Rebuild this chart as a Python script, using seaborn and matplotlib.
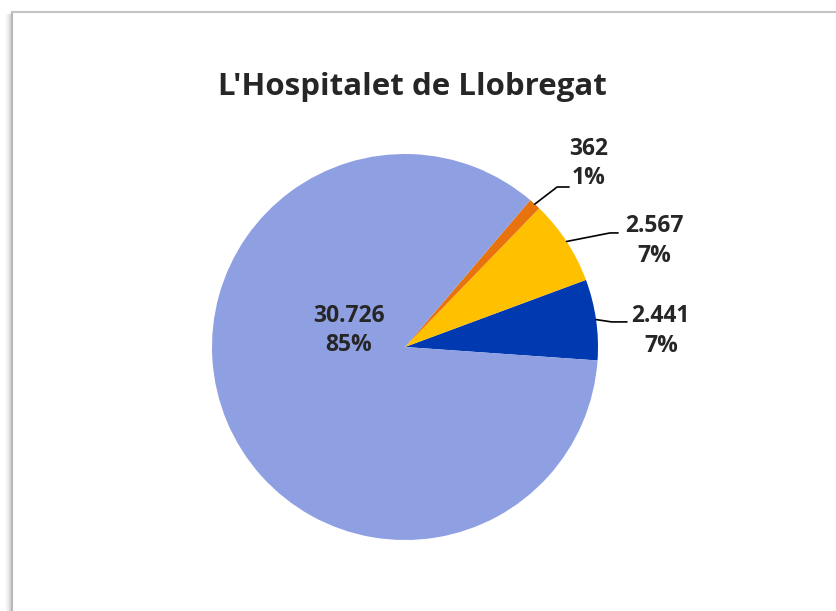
import matplotlib
matplotlib.use("Agg")
import matplotlib.pyplot as plt
from matplotlib.lines import Line2D
import numpy as np
import seaborn as sns

# data
categories = ["C", "B", "A", "D"]
values = [2441, 2567, 362, 30726]
value_labels = ["2.441", "2.567", "362", "30.726"]
colors = ["#0039B0", "#FFC000", "#E8720C", "#8E9FE2"]
title = "L'Hospitalet de Llobregat"

sns.set_theme(style="white")
plt.rcParams["font.family"] = ["Open Sans", "DejaVu Sans"]

fig = plt.figure(figsize=(8.37, 6.11), dpi=100)
ax = fig.add_axes([0, 0, 1, 1])

wedges, _ = ax.pie(values, colors=colors, startangle=-4, counterclock=True,
                   radius=1, center=(0, 0), wedgeprops=dict(linewidth=0))

# map pixels: center (405, 347), radius 193px
scale = 193.0
ax.set_xlim(-405 / scale, (837 - 405) / scale)
ax.set_ylim(-(611 - 347) / scale, 347 / scale)
ax.set_aspect("equal")
ax.axis("off")

total = sum(values)
pct = [f"{round(v / total * 100):.0f}%" for v in values]

# label placement: (elbow, end of line, text pos) in data units
outer = {
    0: ((1.07, 0.13), (1.15, 0.13), (1.326, 0.083)),
    1: ((1.062, 0.591), (1.104, 0.591), (1.29, 0.55)),
    2: ((0.788, 0.829), (0.850, 0.829), (0.953, 0.95)),
}
for i, w in enumerate(wedges):
    mid = np.deg2rad((w.theta1 + w.theta2) / 2)
    txt = f"{value_labels[i]}\n{pct[i]}"
    if i in outer:
        elbow, end, tpos = outer[i]
        anchor = (np.cos(mid), np.sin(mid))
        ax.add_line(Line2D([anchor[0], elbow[0], end[0]],
                           [anchor[1], elbow[1], end[1]],
                           color="black", lw=1.2))
        ax.text(tpos[0], tpos[1], txt, ha="center", va="center",
                fontsize=16.5, fontweight="bold", color="#262626",
                linespacing=1.3)
    else:
        ax.text(-0.29, 0.085, txt, ha="center", va="center",
                fontsize=16.5, fontweight="bold", color="#262626",
                linespacing=1.3)

fig.text(412 / 837, 1 - 87 / 611, title, ha="center", va="center",
         fontsize=22.5, fontweight="bold", color="#262626")

# chart frame with shadow on the left
for k, a in enumerate([0.05, 0.08, 0.12, 0.18, 0.25, 0.35]):
    x = (6 + k) / 837
    fig.add_artist(Line2D([x, x], [0, 1 - 14 / 611], transform=fig.transFigure,
                          color="gray", alpha=a, lw=1))
fig.add_artist(Line2D([12.5 / 837, 12.5 / 837], [0, 1 - 12 / 611],
                      transform=fig.transFigure, color="#B8B8B8", lw=1.5))
fig.add_artist(Line2D([12 / 837, 1], [1 - 12 / 611, 1 - 12 / 611],
                      transform=fig.transFigure, color="#C4C4C4", lw=1.5))

fig.savefig("out.png", dpi=100)
